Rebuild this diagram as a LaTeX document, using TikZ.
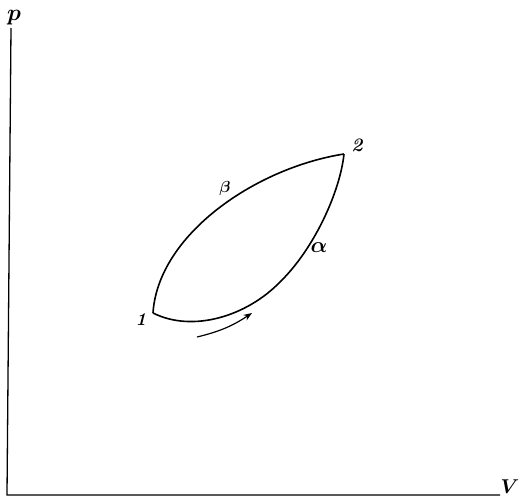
\RequirePackage{fix-cm}
\documentclass[tikz,border=0pt]{standalone}
\usetikzlibrary{arrows.meta}

\begin{document}
\begin{tikzpicture}[x=1pt,y=-1pt,>=Stealth,
    axis/.style={line width=1.3pt},
    cycle/.style={line width=1.6pt},
    lbl/.style={inner sep=0pt,font=\fontsize{#1}{#1}\selectfont\boldmath}]
    \useasboundingbox (0,0) rectangle (520,498);
    % axes
    \coordinate (O) at (7,495);
    \coordinate (ytop) at (11,28);
    \coordinate (xend) at (500,495);
    \draw[axis] (ytop)--(O)--(xend);
    \node[lbl=23] (plab) at (14,18) {$p$};
    \node[lbl=20] (Vlab) at (510,487) {$V$};
    % states
    \coordinate (s1) at (153,313);
    \coordinate (s2) at (344,154);
    \coordinate (mid) at (280,282);
    \node[lbl=18] (n1) at (141,320) {\bfseries\itshape 1};
    \node[lbl=19] (n2) at (357,145) {\bfseries\itshape 2};
    % paths alpha and beta
    \draw[cycle] (s1) .. controls (193,333) and (247,316) .. (mid)
        .. controls (314,249) and (340,192) .. (s2);
    \draw[cycle] (s1) .. controls (158,235) and (255,168) .. (s2);
    \node[lbl=22] (alab) at (319,248) {$\alpha$};
    \node[lbl=16] (blab) at (225,188) {$\beta$};
    % direction
    \coordinate (a1) at (197,337);
    \coordinate (a2) at (252,313);
    \draw[->,line width=1.2pt] (a1) to[bend right=10] (a2);
\end{tikzpicture}
\end{document}
